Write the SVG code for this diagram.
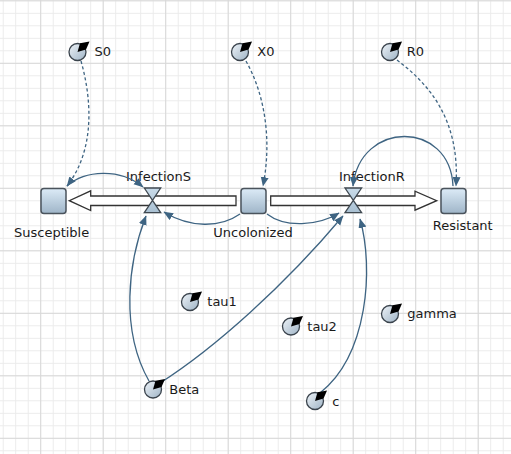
<svg xmlns="http://www.w3.org/2000/svg" width="511" height="454" viewBox="0 0 511 454">
<style>
.lbl{font-family:"DejaVu Sans","Liberation Sans",sans-serif;font-size:13px;fill:#1a1a1a}
.stock{fill:url(#gStock);stroke:#4a535c;stroke-width:1.5}
.pipe{fill:#fff;stroke:#333;stroke-width:1.3;stroke-linejoin:miter}
.valve{fill:url(#gValve);stroke:#3f4850;stroke-width:1.3;stroke-linejoin:miter}
.link{fill:none;stroke:#3e6482;stroke-width:1.3;marker-end:url(#ah)}
.dash{stroke-dasharray:3.2 2.4}
.dialc{fill:url(#gDial);stroke:#3a434c;stroke-width:1.3}
</style>
<defs>
<pattern id="gMin" patternUnits="userSpaceOnUse" x="-3.05" y="-5.45" width="12.5" height="12.5">
<path d="M6.25 0V12.5M0 6.25H12.5" stroke="#ebebeb" stroke-width="1" fill="none"/>
</pattern>
<pattern id="gMaj" patternUnits="userSpaceOnUse" x="9.45" y="32.05" width="62.5" height="62.5">
<path d="M31.25 0V62.5M0 31.25H62.5" stroke="#d8d8d8" stroke-width="1" fill="none"/>
</pattern>
<linearGradient id="gStock" x1="0" y1="0" x2="0" y2="1">
<stop offset="0" stop-color="#dcebf7"/><stop offset="1" stop-color="#9fb5c8"/>
</linearGradient>
<linearGradient id="gValve" x1="0" y1="0" x2="0" y2="1">
<stop offset="0" stop-color="#c9dbe9"/><stop offset="1" stop-color="#a9c0d2"/>
</linearGradient>
<linearGradient id="gDial" x1="0" y1="0" x2="1" y2="1">
<stop offset="0" stop-color="#eef3f8"/><stop offset="1" stop-color="#9fb4c6"/>
</linearGradient>
<marker id="ah" markerUnits="userSpaceOnUse" markerWidth="12" markerHeight="10" refX="9" refY="4" orient="auto">
<path d="M0 0L9.5 4L0 8Z" fill="#3e6482"/>
</marker>
<g id="dial">
<circle r="8.5" class="dialc"/>
<polygon points="0,0 2.5,-8.8 12,-10.5 8.5,-2.5" fill="#000"/>
</g>
</defs>
<rect width="511" height="454" fill="#fff"/>
<rect width="511" height="454" fill="url(#gMin)"/>
<rect width="511" height="454" fill="url(#gMaj)"/>

<g id="InfectionS">
<polygon class="pipe" points="236,196 90.7,196 90.7,190.8 69.3,200.7 90.7,210.5 90.7,205.5 236,205.5"/>
<path class="valve" d="M144.3 188H160.7L152.5 200.4ZM152.5 200.4L160.7 212.7H144.3Z"/>
<text class="lbl" x="126" y="181">InfectionS</text>
</g>
<g id="InfectionR">
<polygon class="pipe" points="270.7,196 415,196 415,191.2 436.7,200.7 415,210.2 415,205.5 270.7,205.5"/>
<path class="valve" d="M345 188H361.6L353.3 200.4ZM353.3 200.4L361.6 212.7H345Z"/>
<text class="lbl" x="339" y="181">InfectionR</text>
</g>

<g id="Susceptible">
<rect class="stock" x="41" y="188.5" width="25" height="25" rx="3"/>
<text class="lbl" x="14" y="237.3">Susceptible</text>
</g>
<g id="Uncolonized">
<rect class="stock" x="241" y="188.5" width="25" height="25" rx="3"/>
<text class="lbl" x="213.3" y="237.3">Uncolonized</text>
</g>
<g id="Resistant">
<rect class="stock" x="441" y="188.5" width="25" height="25" rx="3"/>
<text class="lbl" x="432.7" y="230">Resistant</text>
</g>

<g id="connectors">
<path class="link dash" d="M81 61C92 100 95 150 67 186"/>
<path class="link dash" d="M246 61C265 95 272 140 263 186"/>
<path class="link dash" d="M397 60C430 85 460 120 456 186"/>
<path class="link" d="M67 186C85 170 120 168 143 187"/>
<path class="link" d="M240 214C220 228 190 228 164 212"/>
<path class="link" d="M267 214C285 228 318 226 339 213"/>
<path class="link" d="M453 186C450 120 360 120 353 186"/>
<path class="link" d="M149 381C120 330 128 262 146 216"/>
<path class="link" d="M160 383C215 348 285 285 343 216"/>
<path class="link" d="M320 393C368 355 374 268 360 219"/>
</g>

<g id="S0"><use href="#dial" x="77.5" y="52"/><text class="lbl" x="94.5" y="56">S0</text></g>
<g id="X0"><use href="#dial" x="240" y="52"/><text class="lbl" x="257.3" y="56">X0</text></g>
<g id="R0"><use href="#dial" x="390" y="52"/><text class="lbl" x="406.7" y="56">R0</text></g>
<g id="tau1"><use href="#dial" x="190" y="302"/><text class="lbl" x="207.3" y="306">tau1</text></g>
<g id="tau2"><use href="#dial" x="291" y="326.5"/><text class="lbl" x="307.3" y="330.7">tau2</text></g>
<g id="gamma"><use href="#dial" x="390" y="314"/><text class="lbl" x="407.3" y="318.3">gamma</text></g>
<g id="Beta"><use href="#dial" x="153" y="389.5"/><text class="lbl" x="169.3" y="394">Beta</text></g>
<g id="c"><use href="#dial" x="315" y="401"/><text class="lbl" x="332.3" y="405.7">c</text></g>
</svg>
